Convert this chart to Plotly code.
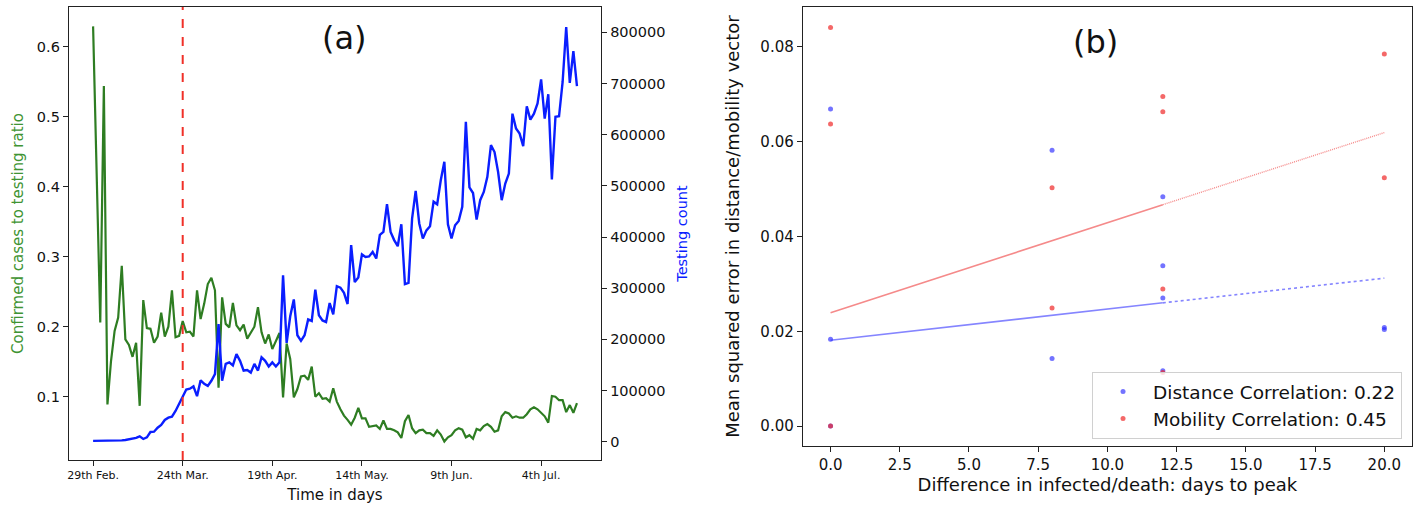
import plotly.graph_objects as go

# ---------------- data: panel (a) ----------------
day_index = list(range(136))
tick_days = [0, 25, 50, 75, 100, 125]
tick_labels = ["29th Feb.", "24th Mar.", "19th Apr.", "14th May.", "9th Jun.", "4th Jul."]
lockdown_day = 25

ratio = [
    0.629, 0.418, 0.206, 0.544, 0.089, 0.151, 0.194, 0.213, 0.287, 0.182,
    0.174, 0.157, 0.177, 0.087, 0.238, 0.198, 0.197, 0.177, 0.186, 0.220,
    0.186, 0.200, 0.252, 0.185, 0.187, 0.208, 0.192, 0.193, 0.186, 0.252,
    0.211, 0.233, 0.261, 0.270, 0.252, 0.113, 0.242, 0.204, 0.199, 0.234,
    0.202, 0.195, 0.203, 0.183, 0.192, 0.200, 0.228, 0.192, 0.176, 0.189,
    0.168, 0.180, 0.191, 0.099, 0.176, 0.154, 0.099, 0.111, 0.129, 0.130,
    0.124, 0.143, 0.100, 0.105, 0.097, 0.098, 0.093, 0.112, 0.093, 0.082,
    0.073, 0.067, 0.060, 0.070, 0.084, 0.069, 0.069, 0.057, 0.058, 0.059,
    0.054, 0.066, 0.054, 0.054, 0.052, 0.049, 0.041, 0.065, 0.074, 0.055,
    0.048, 0.052, 0.053, 0.048, 0.048, 0.044, 0.052, 0.046, 0.036, 0.042,
    0.045, 0.052, 0.055, 0.053, 0.042, 0.045, 0.040, 0.054, 0.052, 0.058,
    0.061, 0.057, 0.050, 0.052, 0.072, 0.078, 0.076, 0.070, 0.072, 0.070,
    0.070, 0.075, 0.082, 0.085, 0.082, 0.077, 0.072, 0.063, 0.101, 0.100,
    0.095, 0.095, 0.078, 0.088, 0.077, 0.091,
]

tests = [
    1500, 1500, 1500, 1800, 1800, 2000, 2000, 2200, 2500, 3300,
    4600, 6000, 7500, 10500, 5300, 8500, 19000, 19500, 27300, 32600,
    42400, 46900, 48800, 60000, 73000, 88000, 102000, 103500, 108000, 89000,
    120000, 113000, 109000, 119000, 132000, 230000, 119000, 152000, 155000, 149000,
    171000, 158000, 139000, 140000, 135000, 152000, 139000, 165000, 158000, 147000,
    155000, 147000, 155000, 325000, 193000, 245000, 278000, 208000, 197000, 208000,
    239000, 236000, 297000, 247000, 237000, 234000, 271000, 249000, 304000, 301000,
    291000, 269000, 384000, 312000, 321000, 366000, 361000, 362000, 371000, 358000,
    404000, 410000, 464000, 410000, 394000, 382000, 425000, 308000, 310500, 436000,
    490000, 426500, 397000, 413000, 421000, 469000, 464000, 511000, 547000, 425000,
    397000, 423000, 431500, 459000, 625000, 497000, 486000, 434000, 472000, 488000,
    517500, 579500, 566000, 527000, 472000, 504500, 524000, 641000, 612000, 602000,
    577500, 655500, 629500, 641000, 661000, 708000, 631500, 679000, 512500, 635000,
    636000, 703000, 810500, 701000, 763500, 694700,
]

# ---------------- data: panel (b) ----------------
peak_diff = [0, 0, 0, 8, 8, 12, 12, 12, 12, 20, 20]
distance_mse = [0.0669, 0.0183, 0.0, 0.0582, 0.01425, 0.0484, 0.0338, 0.0270, 0.01165, 0.0208, 0.0204]
mobility_mse = [0.0841, 0.0637, 0.0, 0.0503, 0.0249, 0.0695, 0.0663, 0.0289, 0.0113, 0.0785, 0.0524]
trend_x = [0, 12, 20]
distance_trend = [0.0181, 0.0260, 0.0312]
mobility_trend = [0.0239, 0.0467, 0.0619]

FONT = "DejaVu Sans"
GREEN = "#2e7d22"
BLUE = "#0a1eff"
W, H = 1418, 508


def px_x(a, b):
    return [a / W, b / W]


def px_y(top, bottom):
    return [(H - bottom) / H, (H - top) / H]


fig = go.Figure()

fig.add_trace(go.Scatter(x=day_index, y=ratio, mode="lines", xaxis="x", yaxis="y",
                         line=dict(color=GREEN, width=2.2), showlegend=False))
fig.add_trace(go.Scatter(x=day_index, y=tests, mode="lines", xaxis="x", yaxis="y2",
                         line=dict(color=BLUE, width=2.4), showlegend=False))

fig.add_shape(type="line", xref="x", yref="y domain", x0=lockdown_day, x1=lockdown_day,
              y0=0, y1=1, line=dict(color="#f03028", width=2, dash="dash"), layer="above")

# panel (b)
fig.add_trace(go.Scatter(x=trend_x[:2], y=distance_trend[:2], mode="lines", xaxis="x2", yaxis="y3",
                         line=dict(color="#8585ff", width=1.6), showlegend=False))
fig.add_trace(go.Scatter(x=trend_x[1:], y=distance_trend[1:], mode="lines", xaxis="x2", yaxis="y3",
                         line=dict(color="#8585ff", width=1.6, dash="dot"), showlegend=False))
fig.add_trace(go.Scatter(x=trend_x[:2], y=mobility_trend[:2], mode="lines", xaxis="x2", yaxis="y3",
                         line=dict(color="#f58a8a", width=1.6), showlegend=False))
fig.add_trace(go.Scatter(x=trend_x[1:], y=mobility_trend[1:], mode="lines", xaxis="x2", yaxis="y3",
                         line=dict(color="#f58a8a", width=1.4, dash="1px,1px"), showlegend=False))
fig.add_trace(go.Scatter(x=peak_diff, y=distance_mse, mode="markers", xaxis="x2", yaxis="y3",
                         marker=dict(color="rgba(40,40,255,0.65)", size=5),
                         name="Distance Correlation: 0.22"))
fig.add_trace(go.Scatter(x=peak_diff, y=mobility_mse, mode="markers", xaxis="x2", yaxis="y3",
                         marker=dict(color="rgba(240,40,40,0.7)", size=5),
                         name="Mobility Correlation: 0.45"))

axis_common = dict(showline=True, linecolor="#222", linewidth=1.2, ticks="outside",
                   ticklen=5, tickwidth=1.1, tickcolor="#222", showgrid=False, zeroline=False)

fig.update_layout(
    width=W, height=H, margin=dict(l=0, r=0, t=0, b=0),
    paper_bgcolor="white", plot_bgcolor="white",
    font=dict(family=FONT, color="#111"),
    xaxis=dict(domain=px_x(67, 600), anchor="y", range=[-6.75, 141.75], mirror=True,
               tickvals=tick_days, ticktext=tick_labels, tickfont=dict(size=11),
               title=dict(text="Time in days", font=dict(size=15), standoff=8), **axis_common),
    yaxis=dict(domain=px_y(7, 460), anchor="x", range=[0.0096, 0.6567],
               tickvals=[0.1, 0.2, 0.3, 0.4, 0.5, 0.6], tickformat=".1f", tickfont=dict(size=14.5),
               title=dict(text="Confirmed cases to testing ratio", font=dict(size=15, color="#3f9433"),
                          standoff=9), **axis_common),
    yaxis2=dict(overlaying="y", side="right", anchor="x", range=[-35800, 849500],
                tickvals=[0, 100000, 200000, 300000, 400000, 500000, 600000, 700000, 800000],
                tickformat="d", tickfont=dict(size=14.5),
                title=dict(text="Testing count", font=dict(size=14.5, color=BLUE), standoff=12),
                **axis_common),
    xaxis2=dict(domain=px_x(802, 1412), anchor="y3", range=[-1.0, 21.0], mirror=True,
                tickvals=[0, 2.5, 5, 7.5, 10, 12.5, 15, 17.5, 20], tickformat=".1f",
                tickfont=dict(size=15),
                title=dict(text="Difference in infected/death: days to peak", font=dict(size=18),
                           standoff=5), **axis_common),
    yaxis3=dict(domain=px_y(7, 446), anchor="x2", range=[-0.0042, 0.0884], mirror=True,
                tickvals=[0.0, 0.02, 0.04, 0.06, 0.08], tickformat=".2f", tickfont=dict(size=15),
                title=dict(text="Mean squared error in distance/mobility vector", font=dict(size=18),
                           standoff=16), **axis_common),
    legend=dict(x=1402 / W, y=(H - 439) / H, xanchor="right", yanchor="bottom",
                bgcolor="rgba(255,255,255,0.8)", bordercolor="#d0d0d0", borderwidth=1,
                font=dict(size=18.5, family=FONT), itemwidth=50, tracegroupgap=0),
    annotations=[
        dict(text="(a)", x=343 / W, y=(H - 38) / H, xref="paper", yref="paper",
             showarrow=False, font=dict(size=32, family=FONT, color="#111"),
             xanchor="center", yanchor="middle"),
        dict(text="(b)", x=1095 / W, y=(H - 42) / H, xref="paper", yref="paper",
             showarrow=False, font=dict(size=32, family=FONT, color="#111"),
             xanchor="center", yanchor="middle"),
    ],
)

fig.write_html("out.html", config={"displayModeBar": False},
               post_script="document.body.style.margin='0';")
